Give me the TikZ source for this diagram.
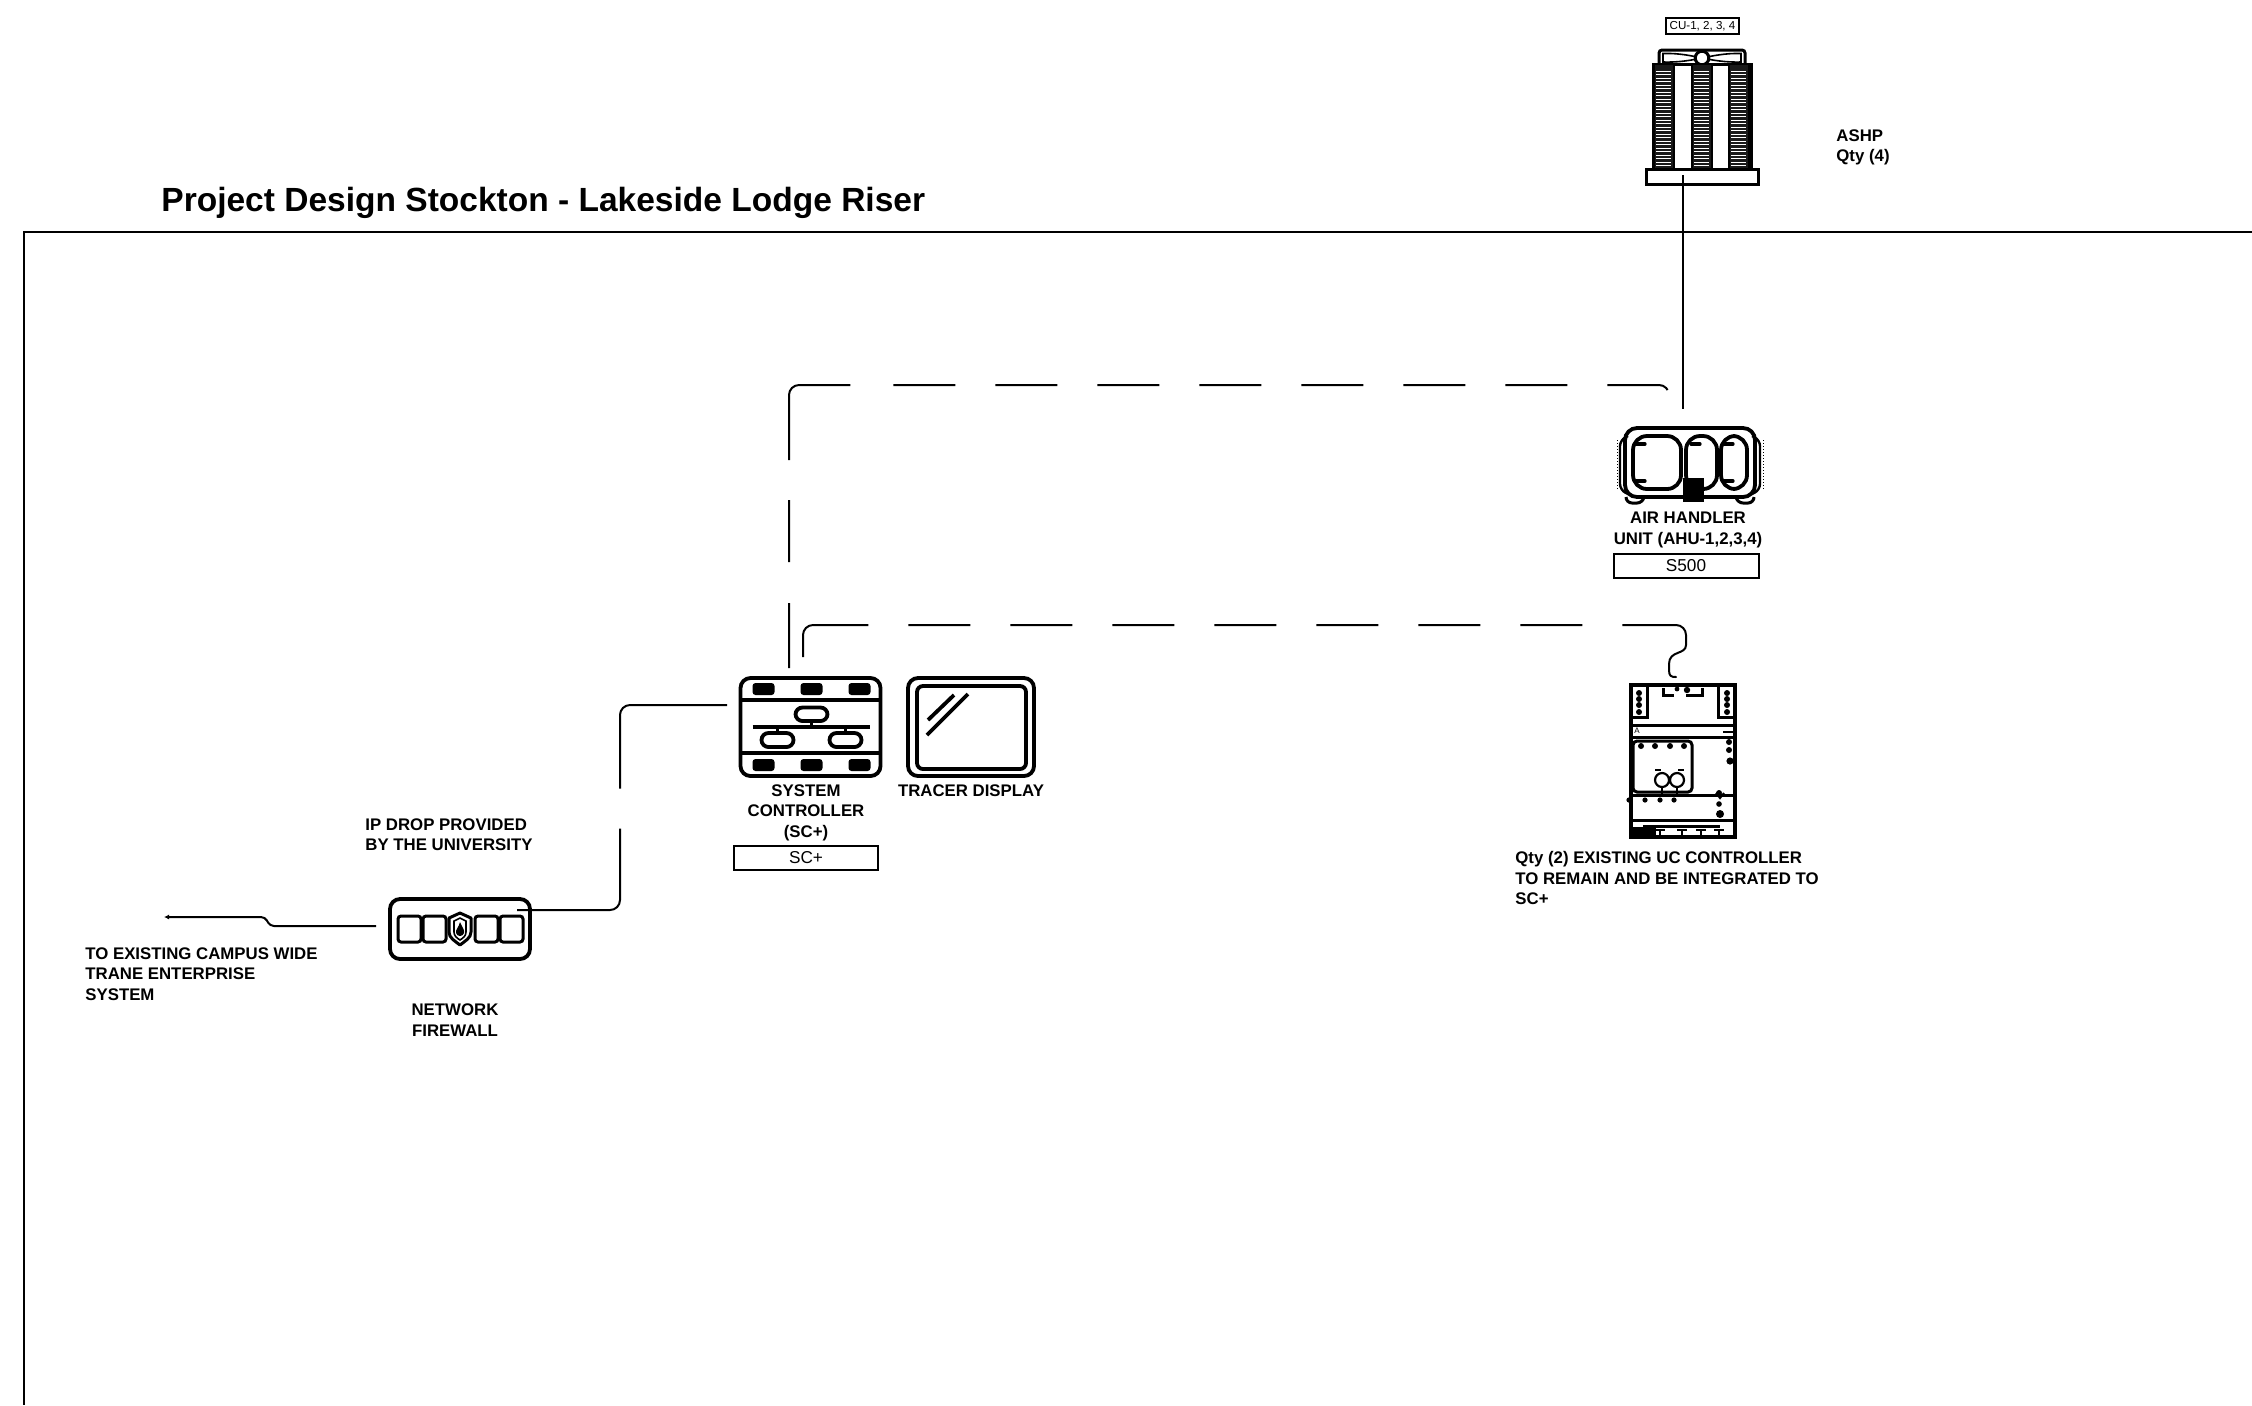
\documentclass[tikz,border=0pt]{standalone}
\usepackage{fontspec}
\usetikzlibrary{arrows.meta}
\setmainfont{Liberation Sans}
\tikzset{
  x=0.5pt,y=-0.5pt,
  lab/.style={font=\fontsize{8.4}{10.25}\selectfont\bfseries,inner sep=0pt,align=left,anchor=north west},
  labc/.style={font=\fontsize{8.4}{10.25}\selectfont\bfseries,inner sep=0pt,align=center,anchor=north},
  tagbox/.style={draw,line width=1pt,inner sep=0pt,font=\fontsize{8.6}{10}\selectfont,anchor=center},
  wire/.style={line width=1pt,rounded corners=5pt},
  icon/.style={line width=1.9pt},
  iconb/.style={line width=1.5pt},
  dashA/.style={dash pattern=on 32.5pt off 20.5pt on 31pt off 20pt on 66pt off 21.5pt on 31pt off 20pt on 31pt off 20pt on 31pt off 20pt on 31pt off 20pt on 31pt off 20pt on 31pt off 20pt on 31pt off 20pt on 31pt off 20pt on 100pt off 1pt},
  dashB/.style={dash pattern=on 46.5pt off 20pt on 31pt off 20pt on 31pt off 20pt on 31pt off 20pt on 31pt off 20pt on 31pt off 20pt on 31pt off 20pt on 31pt off 20pt on 100pt off 1pt},
}
\begin{document}
\begin{tikzpicture}
\useasboundingbox (0,0) rectangle (2252,1405);
% frame
\coordinate (frameTR) at (2252,232);
\coordinate (frameTL) at (24,232);
\coordinate (frameBL) at (24,1405);
\draw[line width=1pt] (frameTR) -- (frameTL) -- (frameBL);
\node[anchor=base west,inner sep=0pt,font=\fontsize{16.76}{20}\selectfont\bfseries] (title) at (161,211) {Project Design Stockton - Lakeside Lodge Riser};

% ASHP
\node[tagbox,minimum width=36.5pt,minimum height=8pt,font=\fontsize{5.8}{6}\selectfont] (cutag) at (1702.5,26) {CU-1, 2, 3, 4};
\draw[iconb,rounded corners=1.5pt] (1659,64) -- (1659,50) -- (1745,50) -- (1745,64);
\draw[line width=0.8pt] (1663,53.5) .. controls (1680,53) and (1692,56) .. (1702,58) .. controls (1712,56) and (1725,53) .. (1741,53.5) -- (1741,62) .. controls (1725,62.5) and (1712,60) .. (1702,58) .. controls (1692,60) and (1680,62.5) .. (1663,62) -- cycle;
\draw[iconb,fill=white] (1702,58) circle (3.4pt);
\draw[iconb] (1653,170) -- (1653,64.5) -- (1751,64.5) -- (1751,170);
\foreach \cx in {1654,1692,1729}{
  \fill[black!90] (\cx,65) rectangle ++(20,104);
  \draw[line width=1.3pt] (\cx,65) -- ++(0,104) (\cx+20,65) -- ++(0,104);
  \foreach \yy in {71,74.5,...,166}{\draw[white,line width=0.3pt] (\cx+2,\yy) -- ++(15,0);}
}
\draw[iconb,fill=white] (1646,169) rectangle (1758,184);
\coordinate (ashpOut) at (1683,175);
\node[lab] (ashplab) at (1836,129) {ASHP\\Qty (4)};

% AHU
\node[inner sep=0pt,minimum width=65pt,minimum height=34.5pt] (ahu) at (1690,462.5) {};
\draw[icon,rounded corners=6pt] (1625,497) -- (1625,428) -- (1755,428) -- (1755,497) -- cycle;
\draw[line width=1.2pt,rounded corners=3pt] (1628,436) -- (1620,440) -- (1620,490) -- (1628,494);
\draw[line width=1.2pt,rounded corners=3pt] (1752,436) -- (1760,440) -- (1760,490) -- (1752,494);
\draw[line width=.5pt,densely dotted] (1617,440) -- (1617,490) (1763,440) -- (1763,490);
\draw[icon,rounded corners=7pt] (1633,436) rectangle (1681,489);
\draw[icon,rounded corners=7pt] (1686,436) rectangle (1717,489);
\draw[icon,rounded corners=7pt] (1721,436) rectangle (1747,489);
\draw[iconb,rounded corners=3pt] (1626,497) -- (1626,503) -- (1643,503) -- (1644,497);
\draw[iconb,rounded corners=3pt] (1736,497) -- (1737,503) -- (1754,503) -- (1754,497);
\foreach \a/\b/\c in {1636/1645/444,1636/1645/481,1691/1700/444,1724/1733/444,1724/1733/481}{
  \draw[line width=1.6pt,line cap=round] (\a,\c) -- (\b,\c);}
\fill (1683,478) rectangle (1704,502);
\coordinate (ahuA) at (1669,418);
\coordinate (ahuB) at (1683,409);
\node[labc] (ahulab) at (1688,512) {AIR HANDLER\\UNIT (AHU-1,2,3,4)};
\node[tagbox,minimum width=72.5pt,minimum height=12pt] (s500) at (1686,566) {S500};

% UC controller
\node[inner sep=0pt,minimum width=53pt,minimum height=77pt] (uc) at (1683,761) {};
\draw[icon] (1631,685) rectangle (1735,837);
\draw[iconb] (1632,725) -- (1735,725) (1632,737) -- (1735,737) (1632,795) -- (1735,795) (1632,820) -- (1735,820);
\draw[iconb] (1647,685) -- (1647,717) -- (1633,717);
\draw[iconb] (1718,685) -- (1718,717) -- (1734,717);
\foreach \cx in {1639,1727}{\foreach \yy in {693,699,705,712}{\fill (\cx,\yy) circle (1.5pt);}}
\draw[iconb] (1663,688) -- (1663,695) -- (1674,695) (1686,695) -- (1702,695) -- (1702,688);
\fill (1677,689) circle (1.2pt) (1687,690) circle (1.6pt);
\node[inner sep=0pt,font=\fontsize{4}{4}\selectfont] (ucA) at (1637,731) {A};
\draw[line width=1.5pt,rounded corners=2pt] (1633,741) rectangle (1692,792);
\foreach \cx in {1641,1655,1670,1684}{\fill (\cx,746) circle (1.5pt);}
\foreach \cx in {1629,1645,1660,1674}{\fill (\cx,800) circle (1.3pt);}
\draw[line width=1pt] (1655,770) -- (1661,770) (1678,770) -- (1684,770);
\draw[line width=1.1pt,fill=white] (1662,780) circle (3.5pt) (1677,780) circle (3.5pt);
\draw[line width=1pt] (1662,787) -- (1662,795) (1677,787) -- (1677,795);
\fill (1729,742) circle (1.5pt) (1729,750) circle (1.5pt) (1730,761) circle (1.8pt) (1719,793) circle (1.5pt) (1719,804) circle (1.4pt) (1720,814) circle (2pt);
\draw[line width=1pt] (1716,793) -- (1720,798) -- (1724,793);
\draw[line width=1pt] (1723,732) -- (1735,732);
\draw[iconb] (1643,826) -- (1720,826);
\foreach \cx in {1660,1682,1701,1719}{\draw[line width=1pt] (\cx-5,830) -- (\cx+5,830) (\cx,830) -- (\cx,836);}
\fill (1631,827) rectangle (1656,838);
\node[lab] (uclab) at (1515,851) {Qty (2) EXISTING UC CONTROLLER\\TO REMAIN AND BE INTEGRATED TO\\SC+};

% System controller
\node[inner sep=0pt,minimum width=70pt,minimum height=49pt] (sc) at (810.5,727) {};
\draw[icon,rounded corners=5pt] (740.5,678) rectangle (880.5,776);
\draw[icon] (740.5,700) -- (880.5,700) (740.5,753) -- (880.5,753);
\foreach \cx in {752.5,800.5,848.5}{
  \fill[rounded corners=1.5pt] (\cx,683) rectangle ++(22,12);
  \fill[rounded corners=1.5pt] (\cx,759) rectangle ++(22,12);
}
\draw[icon] (752.5,727) -- (869.5,727);
\draw[iconb] (811.5,721) -- (811.5,727) (777.5,727) -- (777.5,732) (845.5,727) -- (845.5,732);
\draw[icon,rounded corners=3.5pt] (795.5,707.5) rectangle (827.5,721);
\draw[icon,rounded corners=3.5pt] (761.5,733) rectangle (793.5,747);
\draw[icon,rounded corners=3.5pt] (829.5,733) rectangle (861.5,747);
\coordinate (scIn) at (727,705);
\coordinate (scA) at (789,668);
\coordinate (scB) at (803,657);
\node[labc] (sclab) at (806,784) {SYSTEM\\CONTROLLER\\(SC+)};
\node[tagbox,minimum width=72pt,minimum height=12pt] (scbox) at (806,858) {SC+};

% Tracer display
\node[inner sep=0pt,minimum width=64pt,minimum height=49pt] (disp) at (971,727) {};
\draw[icon,rounded corners=5pt] (908,678) rectangle (1034,776);
\draw[icon,rounded corners=3pt] (917,686) rectangle (1026,769);
\draw[icon] (928,720) -- (954,695) (927,735) -- (968,694);
\node[labc] (displab) at (971,784) {TRACER DISPLAY};

% Firewall
\node[inner sep=0pt,minimum width=70pt,minimum height=30pt] (fw) at (460,929) {};
\draw[icon,rounded corners=5pt] (390,899) rectangle (530,959);
\foreach \cx in {398,423,475,500}{\draw[iconb,rounded corners=1.5pt] (\cx,916) rectangle ++(23,26);}
\draw[iconb,line join=round,fill=white] (460,913) -- (471,918) -- (471,932) .. controls (471,938) and (465,941) .. (460,945) .. controls (455,941) and (449,938) .. (449,932) -- (449,918) -- cycle;
\draw[line width=.8pt] (460,918) -- (466,921) -- (466,932) .. controls (466,936) and (463,938) .. (460,940) .. controls (457,938) and (454,936) .. (454,932) -- (454,921) -- cycle;
\fill (460,922) .. controls (462,927) and (465,930) .. (464,933) .. controls (463,937) and (457,937) .. (456,933) .. controls (455,930) and (459,927) .. (460,922) -- cycle;
\coordinate (fwOut) at (517,910);
\coordinate (fwIn) at (376,926);
\coordinate (campus) at (164,917);
\node[lab] (iplab) at (365,818) {IP DROP PROVIDED\\BY THE UNIVERSITY};
\node[lab] (campuslab) at (85,947) {TO EXISTING CAMPUS WIDE\\TRANE ENTERPRISE\\SYSTEM};
\node[labc] (fwlab) at (455,1003.5) {NETWORK\\FIREWALL};

% connectors
\draw[line width=.9pt] (ashpOut) -- (ahuB);
\draw[wire,dashA] (scA) -- (789,385) -- (1669,385) -- (ahuA);
\draw[wire,dashB] (scB) -- (803,625) -- (1686,625) -- (1686,645);
\draw[line width=1pt,line cap=round] (1686,645) .. controls (1686,655) and (1669,650) .. (1669,664) -- (1669,670) .. controls (1669,676) and (1671,677) .. (1676,677);
\draw[wire,dash pattern=on 90pt off 20pt on 100pt off 1pt] (fwOut) -- (620,910) -- (620,705) -- (scIn);
\draw[line width=1pt,-{Latex[length=2.5pt,width=2.5pt]},rounded corners=2pt] (fwIn) -- (270,926) -- (265,917) -- (campus);
\end{tikzpicture}
\end{document}
